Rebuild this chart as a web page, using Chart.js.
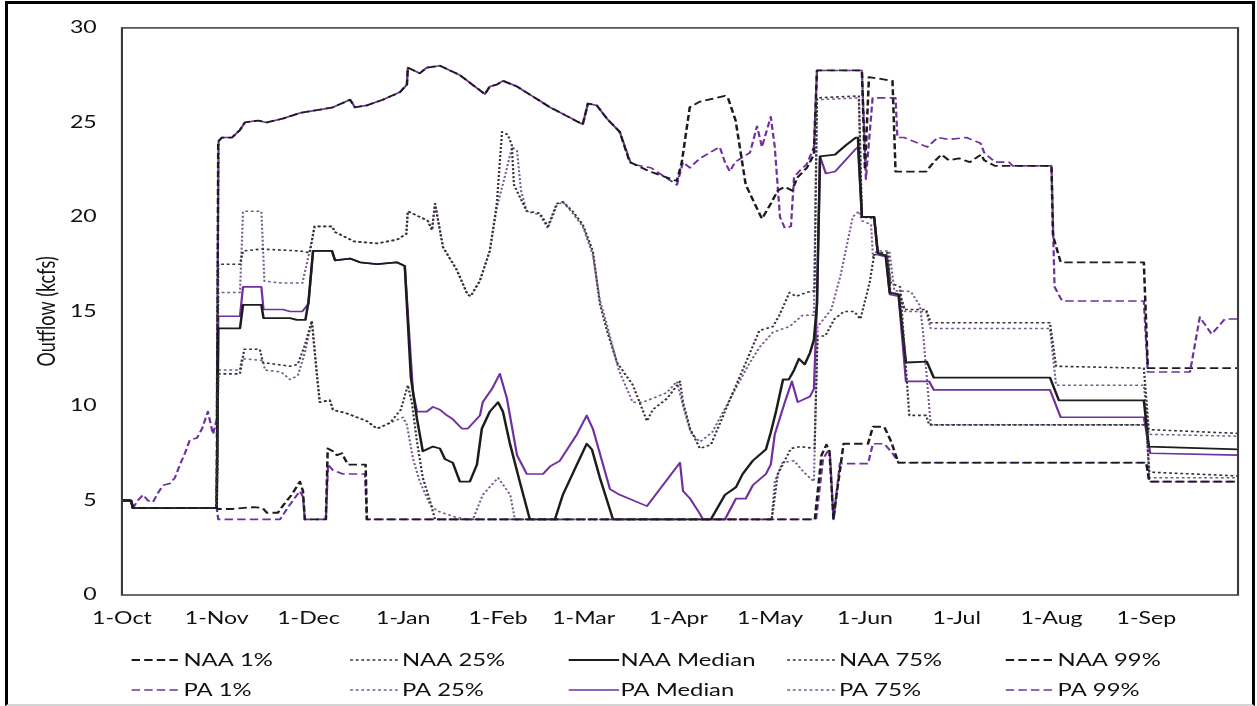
<!DOCTYPE html>
<html>
<head>
<meta charset="utf-8">
<script src="https://cdn.jsdelivr.net/npm/chart.js@4.4.1/dist/chart.umd.min.js"></script>
<style>
  html, body { margin: 0; padding: 0; background: #fff; overflow: hidden; }
  #chart { position: absolute; left: 0; top: 0; display: block; }
  #frame { position: absolute; left: 5px; top: 1px; width: 1250px; height: 705px; box-sizing: border-box;
           border: 3px solid #000; border-bottom: 2px solid #d4d4d4; pointer-events: none; }
</style>
</head>
<body>
<!-- the source picture is stretched sideways, so the chart is laid out 898 wide and drawn x1.4 -->
<canvas id="chart" width="898" height="706" style="width:1257px;height:706px"></canvas>
<div id="frame"></div>
<script>
// days counted from 1-Oct
const monthStarts = [0, 31, 61, 92, 123, 151, 182, 212, 243, 273, 304, 335];
const monthLabels = ['1-Oct', '1-Nov', '1-Dec', '1-Jan', '1-Feb', '1-Mar', '1-Apr', '1-May', '1-Jun', '1-Jul', '1-Aug', '1-Sep'];
const seriesNames = ['NAA 1%', 'NAA 25%', 'NAA Median', 'NAA 75%', 'NAA 99%', 'PA 1%', 'PA 25%', 'PA Median', 'PA 75%', 'PA 99%'];

// outflow, kcfs: [day, value]
const naa1 = [[0,5.0],[3,5.0],[3.6,4.6],[31,4.6],[31.5,4.55],[36,4.55],[43,4.65],[46,4.6],[47.4,4.35],[51,4.35],[53,4.8],[55.5,5.3],[58.2,6.0],[59.2,5.5],[59.8,4.0],[66.7,4.0],[67.3,7.75],[69,7.6],[70.3,7.4],[72,7.5],[72.9,7.2],[73.9,6.9],[79.7,6.9],[80.1,4.0],[226.6,4.0],[228.8,7.4],[230.4,7.95],[231.4,7.6],[232.7,4.0],[233.7,5.3],[236,8.0],[244,8.0],[245.6,8.9],[249.3,8.9],[251.6,8.1],[253.9,7.0],[335,7.0],[336,6.0],[365,6.0]];
const naa25 = [[0,5.0],[3,5.0],[3.6,4.6],[31,4.6],[31.5,11.7],[38.6,11.7],[40,13.0],[45.1,13.0],[46.1,12.3],[55,12.1],[57.5,12.2],[59.8,13.2],[62.1,14.5],[63.8,11.6],[64.7,10.2],[68,10.3],[69,9.8],[73.6,9.6],[80.1,9.2],[83.4,8.8],[87.6,9.1],[91.2,9.8],[93.5,11.1],[94.8,10.2],[96.5,8.1],[98.4,6.2],[100.7,5.0],[102.4,4.0],[212.5,4.0],[214.5,6.4],[218.8,7.75],[222,7.85],[226.5,7.75],[227.5,13.7],[230,13.7],[233,14.6],[236.2,15.0],[239.5,15.0],[241.5,14.6],[244.5,16.5],[246,18.0],[250,18.0],[251.5,16.5],[254.5,16.3],[257.5,9.5],[263,9.5],[264,9.0],[335,9.0],[336,6.5],[365,6.3]];
const naaMedian = [[0,5.0],[3,5.0],[3.6,4.6],[31,4.6],[31.5,14.1],[38.6,14.1],[39.6,15.35],[45.6,15.35],[46.3,14.65],[55,14.65],[57.2,14.55],[60,14.55],[61,15.5],[62.5,18.2],[68.7,18.2],[69.7,17.7],[74.6,17.8],[77.8,17.6],[83.4,17.5],[89.9,17.6],[92.5,17.4],[94.5,11.5],[96.5,9.3],[98.4,7.6],[101.7,7.85],[104,7.75],[105.6,7.2],[108.2,7.0],[110.5,6.0],[113.8,6.0],[116.1,6.9],[117.7,8.8],[120.3,9.7],[123,10.2],[124.6,9.7],[126.9,8.0],[130.1,6.0],[133.4,4.0],[141.6,4.0],[144.2,5.3],[148.8,6.9],[152,8.0],[153.7,7.7],[156.3,6.2],[160.6,4.0],[192.6,4.0],[197.2,5.3],[200.8,5.7],[203,6.4],[206.3,7.1],[210.6,7.7],[212.2,8.6],[213.9,9.7],[216.2,11.4],[218.1,11.4],[219.8,11.9],[221.4,12.5],[223.3,12.2],[225,12.8],[226.3,13.5],[227.3,15.4],[228.3,23.2],[233.2,23.3],[236.8,23.8],[240,24.2],[240.7,24.2],[242,20.0],[246,20.0],[247.2,18.1],[249.8,17.95],[251.1,16.0],[254,15.9],[256.4,12.3],[263.2,12.35],[265.5,11.5],[303.5,11.5],[306.4,10.3],[334.2,10.3],[335.8,7.85],[365,7.7]];
const naa75 = [[0,5.0],[3,5.0],[3.6,4.6],[31,4.6],[31.5,17.5],[38.6,17.5],[39.6,18.2],[45.6,18.3],[58.2,18.2],[61.4,18.1],[63,19.5],[68.7,19.5],[69.7,19.2],[76,18.7],[83.4,18.6],[90,18.8],[93,19.1],[93.5,20.3],[97.4,20.0],[100,19.8],[101.4,19.3],[102.4,20.7],[105,18.4],[109.5,17.2],[113,15.9],[114,15.8],[117,16.6],[120.3,18.2],[122.6,20.7],[124.3,24.5],[126.2,24.35],[127.5,23.8],[128.2,21.7],[132.4,20.3],[136.7,20.2],[139.3,19.5],[142.2,20.7],[144.2,20.8],[147.4,20.3],[150.7,19.6],[154,18.2],[156.3,15.4],[158.6,14.0],[161.9,12.3],[167.1,11.1],[171.7,9.2],[173.6,9.8],[178.3,10.4],[182.5,11.3],[183.5,10.2],[185.8,8.8],[189,7.75],[192.6,7.95],[195.9,9.2],[199.5,10.6],[203,11.9],[208.5,14.0],[212.9,14.2],[215,14.8],[218.3,16.0],[220.5,15.8],[223.8,16.0],[226.5,16.1],[227.3,26.3],[241,26.4],[242,20.0],[246,20.0],[247.2,18.1],[250.5,18.1],[251.3,16.0],[254.5,15.9],[256,15.1],[263,15.1],[264.5,14.4],[303.5,14.4],[305.5,12.1],[334.2,12.0],[335.8,8.75],[365,8.55]];
const naa99 = [[0,5.0],[3,5.0],[3.6,4.6],[31,4.6],[31.5,24.0],[32.7,24.2],[36,24.2],[38.6,24.6],[40.2,25.0],[44.5,25.1],[47.4,25.0],[52.6,25.2],[58.2,25.5],[63.8,25.65],[69,25.8],[74.6,26.2],[76.2,25.8],[80.1,25.9],[85.3,26.2],[90.9,26.6],[93.2,27.0],[93.5,27.9],[97.4,27.6],[99.7,27.9],[104,28.0],[110.5,27.5],[118.7,26.5],[120.3,26.9],[122.6,27.0],[124.6,27.2],[129.2,26.9],[140,25.8],[150.7,24.9],[152.4,26.0],[155.3,25.9],[158.6,25.2],[162.8,24.5],[166.1,22.9],[172.7,22.4],[181.5,21.9],[183.1,22.9],[185.7,25.8],[189,26.1],[197.2,26.4],[198.2,26.3],[200.7,25.1],[204,21.7],[209.3,19.9],[212.2,20.7],[214.5,21.4],[216.8,21.6],[219.1,21.4],[221,22.1],[224,22.6],[226.3,23.3],[227.3,27.75],[242,27.75],[243,22.5],[244.3,27.4],[252,27.2],[253,22.4],[263,22.4],[265.5,22.9],[268,23.3],[270.4,23.0],[273.7,23.1],[277.3,22.9],[281,23.3],[282,23.0],[285.5,22.7],[304,22.7],[304.5,19.0],[307,17.6],[334.2,17.6],[335.5,12.0],[365,12.0]];

const pa1 = [[0,5.0],[3,5.0],[3.6,4.6],[31,4.6],[31.5,4.0],[51.7,4.0],[55,4.8],[58.2,5.5],[59.2,5.2],[59.8,4.0],[66.7,4.0],[67.4,6.9],[69,6.6],[72.3,6.4],[79.5,6.4],[80.1,4.0],[227,4.0],[229.3,7.2],[230.8,7.6],[231.6,7.3],[232.7,4.0],[234.8,6.95],[244,6.95],[245.6,8.0],[249.3,8.0],[252,7.5],[254,7.0],[335,7.0],[336,6.0],[365,6.0]];
const pa25 = [[0,5.0],[3,5.0],[3.6,4.6],[31,4.6],[31.5,11.9],[38.6,11.9],[39.2,12.5],[46.1,12.4],[46.8,11.9],[52,11.8],[55,11.4],[57.5,11.6],[59.8,12.8],[62.1,14.5],[63.8,11.6],[64.7,10.2],[68,10.3],[69,9.8],[73.6,9.6],[80.1,9.2],[83.4,8.8],[87.6,9.1],[91.9,9.4],[93.2,9.0],[95.2,7.2],[97.4,6.0],[100.7,4.8],[103,4.45],[109.5,4.1],[112.8,4.0],[114.8,4.0],[118,5.3],[123,6.2],[127,5.3],[128.5,4.0],[212.5,4.0],[213.5,6.0],[216,7.0],[219.8,7.1],[223,6.5],[226.3,6.0],[227.5,14.2],[232,15.1],[235,16.9],[239,20.0],[241,20.3],[242,19.8],[245,19.6],[245.6,17.9],[247,18.2],[251,18.2],[252.6,16.1],[258,16.05],[261,15.3],[262,13.9],[264.5,9.0],[335,9.0],[336,6.2],[365,6.2]];
const paMedian = [[0,5.0],[3,5.0],[3.6,4.6],[31,4.6],[31.5,14.75],[38.6,14.75],[39.6,16.3],[45.6,16.3],[46.3,15.1],[52.6,15.1],[55,15.0],[59,15.0],[61,15.4],[62.5,18.2],[68.7,18.2],[69.7,17.7],[74.6,17.8],[77.8,17.6],[83.4,17.5],[89.9,17.6],[92.5,17.4],[95.2,10.7],[96.5,9.7],[99.7,9.7],[101.7,9.95],[104,9.8],[106.3,9.5],[108.2,9.3],[111.2,8.8],[113.1,8.8],[117.1,9.5],[118,10.2],[121,10.9],[123.6,11.7],[125.9,10.4],[129.2,7.4],[132.4,6.4],[137.7,6.4],[140,6.8],[143.2,7.1],[148.8,8.5],[152,9.5],[154,8.8],[159.6,5.6],[162.8,5.3],[171.7,4.7],[182.5,7.0],[183.5,5.5],[185.8,5.1],[189,4.3],[190,4.0],[197.2,4.0],[200.8,5.1],[204,5.1],[206.3,5.8],[210.6,6.4],[212.2,6.9],[213.5,8.5],[216.8,10.2],[219.1,11.3],[221,10.2],[225,10.5],[226.3,10.9],[227.3,15.4],[228.3,23.2],[230.2,22.3],[233.2,22.4],[240,23.6],[240.7,23.7],[242,20.0],[246,20.0],[247.2,18.0],[249.8,17.9],[251.1,15.9],[254,15.8],[256.4,11.3],[264,11.3],[265.5,10.85],[303.5,10.85],[307,9.4],[334.2,9.4],[336.3,7.5],[365,7.4]];
const pa75 = [[0,5.0],[3,5.0],[3.6,4.6],[31,4.6],[31.5,16.0],[38.6,16.0],[39.6,20.3],[45.6,20.3],[46.6,16.6],[52.6,16.5],[59,16.5],[61.4,18.2],[63,19.5],[68.7,19.5],[69.7,19.2],[76,18.7],[83.4,18.6],[90,18.8],[93,19.1],[93.5,20.3],[97.4,20.0],[100,19.8],[101.4,19.3],[102.4,20.7],[105,18.4],[109.5,17.2],[113,15.9],[114,15.8],[117,16.6],[120.3,18.2],[122.6,20.5],[125,22.0],[127.6,23.7],[129.2,23.5],[130.5,21.4],[132.4,20.3],[136.7,20.1],[139.3,19.4],[142.2,20.6],[144.2,20.8],[147.4,20.2],[150.7,19.5],[154,18.0],[156.3,15.6],[158.6,14.3],[162.5,11.9],[167,10.2],[170.4,10.2],[178.2,10.7],[181.5,11.3],[183.5,10.0],[186,8.6],[189,8.1],[193,8.6],[197,9.8],[201,11.0],[205,12.2],[208.5,13.1],[212.9,13.9],[218.3,14.2],[222.6,14.8],[226.3,14.8],[227.3,26.2],[241,26.3],[242,20.0],[246,19.9],[247.2,18.0],[250.5,18.0],[251.3,15.9],[254.5,15.8],[256,15.0],[263,15.0],[264.5,14.1],[303.5,14.1],[305.5,11.1],[334.2,11.1],[335.8,8.5],[365,8.4]];
const pa99 = [[0,5.0],[3,5.0],[3.6,4.6],[5.2,5.0],[6.9,5.3],[8.5,5.0],[10.1,4.9],[11.8,5.4],[13.4,5.8],[15.7,5.9],[17.3,6.2],[19,6.9],[20.6,7.5],[22.2,8.2],[24.5,8.3],[26.2,8.8],[28.1,9.7],[29.8,8.5],[31,9.3],[31.6,24.0],[32.7,24.2],[36,24.2],[38.6,24.6],[40.2,25.0],[44.5,25.1],[47.4,25.0],[52.6,25.2],[58.2,25.5],[63.8,25.65],[69,25.8],[74.6,26.2],[76.2,25.8],[80.1,25.9],[85.3,26.2],[90.9,26.6],[93.2,27.0],[93.5,27.9],[97.4,27.6],[99.7,27.9],[104,28.0],[110.5,27.5],[118.7,26.5],[120.3,26.9],[122.6,27.0],[124.6,27.2],[129.2,26.9],[140,25.8],[150.7,24.9],[152.4,26.0],[155.3,25.9],[158.6,25.2],[162.8,24.5],[166.5,22.8],[173,22.6],[181.5,21.7],[183.5,22.9],[185.7,22.6],[189,23.1],[195.5,23.7],[197.2,22.9],[198.8,22.4],[200.5,22.9],[202.4,23.1],[205.4,23.4],[207.7,24.8],[209.3,23.7],[212.2,25.3],[213.5,23.7],[215.2,20.0],[216.8,19.4],[218.8,19.5],[219.8,22.1],[221.4,22.4],[224,22.8],[226.3,23.7],[227.3,27.75],[242,27.75],[243.3,22.0],[245.5,26.3],[253,26.3],[253.6,24.2],[255.8,24.2],[263.4,23.7],[266.8,24.2],[270.4,24.1],[276.2,24.2],[280.8,23.9],[282,23.4],[285.5,22.9],[290.1,22.9],[291.3,22.7],[304,22.7],[305,16.3],[307.5,15.55],[334.2,15.55],[335.5,11.8],[349.3,11.8],[352.5,14.7],[356.4,13.8],[360.7,14.6],[365,14.6]];

const STRETCH = 1.4;
const BLACK = '#1c1c1c', PURPLE = '#7030a0';
const DASHED = [6, 3], DOTTED = [2, 2];
const FONT = 'Lato';

function line(label, data, color, dash, width, dashOffset = 0) {
    return { label, data, borderColor: color, borderDash: dash, borderDashOffset: dashOffset, borderWidth: width,
             pointRadius: 0, tension: 0, fill: false, borderJoinStyle: 'round' };
}

const datasets = [
    line(seriesNames[0], naa1, BLACK, DASHED, 1.8),
    line(seriesNames[1], naa25, '#333', DOTTED, 1.6),
    line(seriesNames[2], naaMedian, BLACK, [], 1.8),
    line(seriesNames[3], naa75, '#333', DOTTED, 1.6),
    line(seriesNames[4], naa99, BLACK, DASHED, 1.8),
    line(seriesNames[5], pa1, PURPLE, DASHED, 1.6),
    line(seriesNames[6], pa25, '#7a5890', DOTTED, 1.5),
    line(seriesNames[7], paMedian, PURPLE, [], 1.6),
    line(seriesNames[8], pa75, '#7a5890', DOTTED, 1.5),
    // shifted dashes so the shared stretch reads as one near-solid line, as in the source
    line(seriesNames[9], pa99, PURPLE, DASHED, 1.6, 4.5),
];

// box round the plot area
const plotFrame = {
    id: 'plotFrame',
    afterDatasetsDraw(chart) {
        const { ctx, chartArea: a } = chart;
        ctx.save();
        ctx.strokeStyle = '#3a3a3a';
        ctx.lineWidth = 1.5;
        ctx.strokeRect(a.left, a.top, a.right - a.left, a.bottom - a.top);
        ctx.restore();
    }
};

// legend laid out as a 5 x 2 grid, like the source
const gridLegend = {
    id: 'gridLegend',
    afterDraw(chart) {
        const ctx = chart.ctx;
        chart.data.datasets.forEach((ds, i) => {
            const x = 94 + (i % 5) * 156.1;
            const y = 660 + Math.floor(i / 5) * 30;
            ctx.save();
            ctx.strokeStyle = ds.borderColor;
            ctx.lineWidth = ds.borderWidth;
            ctx.setLineDash(ds.borderDash);
            ctx.beginPath(); ctx.moveTo(x, y); ctx.lineTo(x + 36, y); ctx.stroke();
            ctx.setLineDash([]);
            ctx.fillStyle = '#111';
            ctx.font = `17px ${FONT}`;
            ctx.textBaseline = 'middle';
            ctx.fillText(ds.label, x + 37, y + 1);
            ctx.restore();
        });
    }
};

const canvas = document.getElementById('chart');
const chart = new Chart(canvas, {
    type: 'line',
    data: { datasets },
    options: {
        responsive: false, animation: false, events: [],
        devicePixelRatio: STRETCH,
        layout: { padding: { left: 10, right: 13.7, top: 22.7, bottom: 0 } },
        plugins: { legend: { display: false }, tooltip: { enabled: false } },
        scales: {
            x: {
                type: 'linear', min: 0, max: 365,
                grid: { display: false, drawTicks: false }, border: { display: false },
                afterBuildTicks: (scale) => { scale.ticks = monthStarts.map(v => ({ value: v })); },
                afterFit: (scale) => { scale.height = 111; },
                ticks: {
                    autoSkip: false, maxRotation: 0, padding: 14, color: '#111',
                    font: { family: FONT, size: 16.5 },
                    callback: (v) => monthLabels[monthStarts.indexOf(v)] ?? ''
                }
            },
            y: {
                min: 0, max: 30,
                grid: { display: false, drawTicks: false }, border: { display: false },
                afterFit: (scale) => { scale.width = 77.1; },
                ticks: { stepSize: 5, padding: 18, color: '#111', font: { family: FONT, size: 16.5 } },
                title: { display: true, text: 'Outflow (kcfs)', color: '#111',
                         font: { family: FONT, size: 18 }, padding: { top: 13, bottom: 0 } }
            }
        }
    },
    plugins: [plotFrame, gridLegend]
});

// give the bitmap its real height back, then draw with a sideways-only scale
canvas.width = 1257;
canvas.height = 706;
chart.ctx.setTransform(STRETCH, 0, 0, 1, 0, 0);
chart.draw();
</script>
</body>
</html>
